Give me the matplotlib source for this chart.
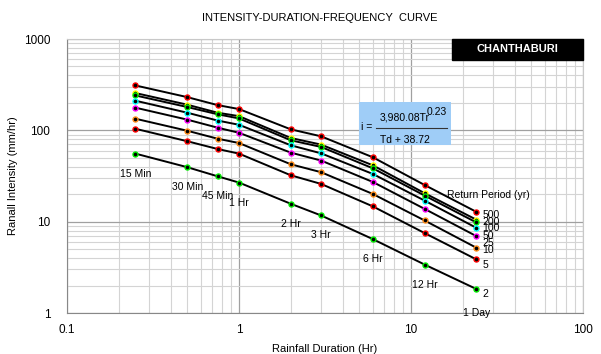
import numpy as np
import matplotlib
matplotlib.use("Agg")
import matplotlib.pyplot as plt
from matplotlib.patches import Rectangle
from matplotlib.lines import Line2D

plt.rcParams["font.family"] = ["Liberation Sans", "DejaVu Sans"]

# durations (hr) and labels
durations = [0.25, 0.5, 0.75, 1, 2, 3, 6, 12, 24]
duration_labels = ["15 Min", "30 Min", "45 Min", "1 Hr", "2 Hr", "3 Hr", "6 Hr", "12 Hr", "1 Day"]

# return periods (yr)
periods = ["500", "200", "100", "50", "25", "10", "5", "2"]

# intensities (mm/hr)
i_500 = [310, 231, 189, 171, 102.5, 86, 50.7, 25.2, 12.8]
i_200 = [256, 191, 156, 143, 82.5, 69.8, 41.4, 20.5, 10.5]
i_100 = [241, 180, 150, 135, 77.8, 65.8, 38.4, 19.3, 9.8]
i_50 = [211, 156, 128, 115, 68.6, 56, 33.3, 17, 8.56]
i_25 = [177, 131, 107, 94, 57, 46.7, 27.2, 13.8, 6.94]
i_10 = [134, 99, 81, 72.6, 42.5, 34.8, 20.1, 10.3, 5.18]
i_5 = [104, 76, 62.5, 55.6, 32.2, 25.9, 14.7, 7.5, 3.86]
i_2 = [55.6, 39.5, 31.4, 26.8, 15.7, 11.7, 6.44, 3.39, 1.83]

series = [i_500, i_200, i_100, i_50, i_25, i_10, i_5, i_2]
colors = ["#ff0000", "#ffff00", "#00ee00", "#00ffff", "#ff00ff", "#ff8c1a", "#ff0000", "#00ee00"]
label_dy = [-3, -2, -6, -8, -7, -2, -6, -5]

fig = plt.figure(figsize=(6.01, 3.54), dpi=100)
ax = fig.add_axes([67 / 601, 41 / 354, 516 / 601, 274 / 354])
ax.set_xscale("log")
ax.set_yscale("log")
ax.set_xlim(0.1, 100)
ax.set_ylim(1, 1000)

ax.grid(True, which="minor", color="#d4d4d4", linewidth=0.8)
ax.grid(True, which="major", color="#a0a0a0", linewidth=0.9)
ax.set_axisbelow(True)
for s in ["top", "right"]:
    ax.spines[s].set_color("#c8c8c8")
for s in ["left", "bottom"]:
    ax.spines[s].set_color("#888888")
ax.tick_params(which="both", length=0)
ax.set_xticks([0.1, 1, 10, 100])
ax.set_xticklabels(["0.1", "1", "10", "100"], fontsize=8.5)
ax.set_yticks([1, 10, 100, 1000])
ax.set_yticklabels(["1", "10", "100", "1000"], fontsize=8.5)
ax.tick_params(axis="x", pad=8)
ax.tick_params(axis="y", pad=12)

for vals, c, lab, dy in zip(series, colors, periods, label_dy):
    ax.plot(durations, vals, color="black", linewidth=1.4, marker="o",
            markersize=3.6, markerfacecolor="black", markeredgecolor=c,
            markeredgewidth=1.0, zorder=3)
    ax.annotate(lab, (durations[-1], vals[-1]), xytext=(6, dy),
                textcoords="offset pixels", fontsize=7.5, va="center", ha="left")

for d, v, lab in zip(durations, i_2, duration_labels):
    dy = -24 if lab == "1 Day" else -20
    ax.annotate(lab, (d, v), xytext=(0, dy), textcoords="offset pixels",
                fontsize=7.5, va="center", ha="center")

ax.annotate("Return Period (yr)", (durations[-1], i_500[-1]), xytext=(-29, 17),
            textcoords="offset pixels", fontsize=7.5, va="center", ha="left")

ax.set_xlabel("Rainfall Duration (Hr)", fontsize=8, labelpad=6)
ax.set_ylabel("Ranall Intensity (mm/hr)", fontsize=8)
ax.yaxis.set_label_coords(-49 / 516, 0.5)
fig.text(320 / 601, 1 - 18 / 354, "INTENSITY-DURATION-FREQUENCY  CURVE",
         fontsize=8, ha="center", va="center")

# station box
def fx(p):
    return p / 601

def fy(p):
    return 1 - p / 354

fig.patches.append(Rectangle((fx(452), fy(60)), fx(583) - fx(452), fy(39) - fy(60),
                             transform=fig.transFigure, facecolor="black",
                             edgecolor="black", zorder=5))
fig.text(fx(517), fy(49.5), "CHANTHABURI", color="white", fontsize=8,
         fontweight="bold", ha="center", va="center", zorder=6)

# formula box
fig.patches.append(Rectangle((fx(359), fy(145)), fx(451) - fx(359), fy(102) - fy(145),
                             transform=fig.transFigure, facecolor="#9fcdf7",
                             edgecolor="none", zorder=5))
fig.text(fx(361), fy(127), "i =", fontsize=7.5, ha="left", va="center", zorder=6)
fig.text(fx(405), fy(118), "3,980.08Tr", fontsize=7.5, ha="center", va="center", zorder=6)
fig.text(fx(437), fy(112), "0.23", fontsize=7.5, ha="center", va="center", zorder=6)
fig.lines.append(Line2D([fx(376), fx(447)], [fy(128), fy(128)], transform=fig.transFigure,
                        color="#333333", linewidth=0.8, zorder=6))
fig.text(fx(405), fy(140), "Td + 38.72", fontsize=7.5, ha="center", va="center", zorder=6)

fig.savefig("out.png", dpi=100)
